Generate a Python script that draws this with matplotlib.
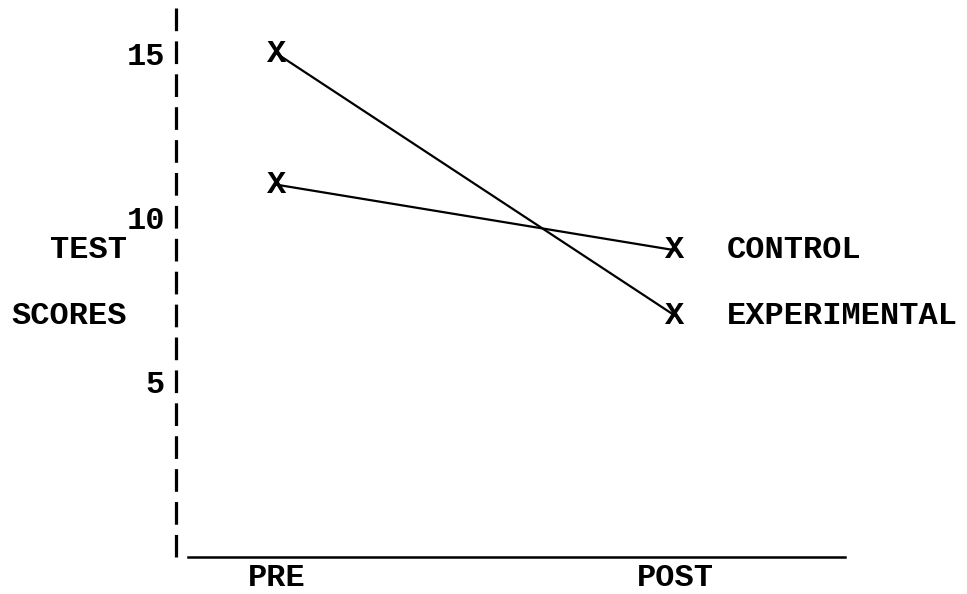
import matplotlib
matplotlib.use("Agg")
import matplotlib.pyplot as plt
from matplotlib.transforms import blended_transform_factory

# ---- data ----
phases = ["PRE", "POST"]
control = [11, 9]
experimental = [15, 7]
series_names = ["CONTROL", "EXPERIMENTAL"]
y_ticks = [5, 10, 15]
y_label_lines = ["TEST", "SCORES"]

FONT = dict(family=["Liberation Mono", "DejaVu Sans Mono"], weight="bold", size=23)

W, H = 967, 594
fig = plt.figure(figsize=(W / 100, H / 100), dpi=100)
left_px, right_px, top_px, bot_px = 176, 845, 8, 557
ax = fig.add_axes([left_px / W, 1 - bot_px / H, (right_px - left_px) / W, (bot_px - top_px) / H])

x = list(range(len(phases)))
ax.set_xlim(-0.254, 1.427)
ax.set_ylim(-0.37, 16.4)

for s in ax.spines.values():
    s.set_visible(False)

# dashed vertical axis (drawn top-down so dashes start at the top)
ylo, yhi = ax.get_ylim()
xlo, xhi = ax.get_xlim()
ax.plot([xlo, xlo], [yhi, ylo], color="black", lw=2.3, solid_capstyle="butt",
        dashes=(7.1, 3.2), clip_on=False)
# horizontal axis, starting slightly right of the vertical axis
ax.plot([-0.223, xhi], [ylo, ylo], color="black", lw=1.8, clip_on=False)

# series lines
for vals in (control, experimental):
    ax.plot(x, vals, color="black", lw=1.6, zorder=2)
    for xi, v in zip(x, vals):
        ax.text(xi, v, "X", ha="center", va="center", zorder=3, **FONT)

# series names at the right
for name, vals in zip(series_names, (control, experimental)):
    ax.text(1.13, vals[-1], name, ha="left", va="center", **FONT)

# y ticks
ax.set_yticks(y_ticks)
ax.set_yticklabels([str(t) for t in y_ticks])
ax.tick_params(axis="y", length=0, pad=8)
for lab in ax.get_yticklabels():
    lab.set_fontfamily(FONT["family"])
    lab.set_fontweight("bold")
    lab.set_fontsize(FONT["size"])

# x ticks
ax.set_xticks(x)
ax.set_xticklabels(phases)
ax.tick_params(axis="x", length=0, pad=4)
for lab in ax.get_xticklabels():
    lab.set_fontfamily(FONT["family"])
    lab.set_fontweight("bold")
    lab.set_fontsize(FONT["size"])

# y axis label rows
tr = blended_transform_factory(fig.transFigure, ax.transData)
for name, yv in zip(y_label_lines, [control[-1], experimental[-1]]):
    ax.text(127 / W, yv, name, ha="right", va="center", transform=tr, **FONT)

fig.savefig("out.png", dpi=100)
